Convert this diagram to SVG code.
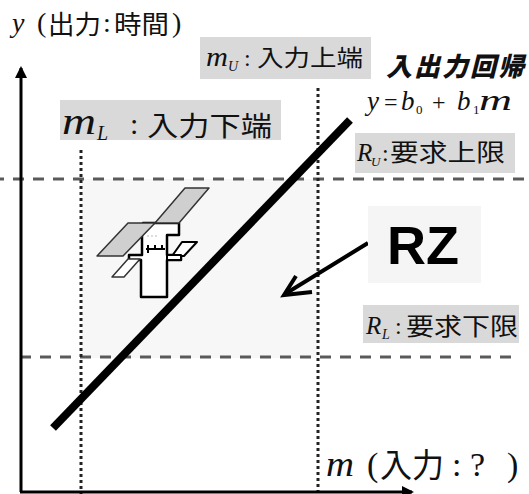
<svg xmlns="http://www.w3.org/2000/svg" width="529" height="494" viewBox="0 0 529 494">
  <style>
    .cjk { font-family: "Noto Sans CJK JP", "Noto Sans", sans-serif; fill: #111; }
    .ser { font-family: "Liberation Serif", "Times New Roman", serif; fill: #111; }
    .it { font-style: italic; }
    .box { fill: #d9d9d9; }
    .dash { stroke: #5a5a5a; stroke-width: 3; stroke-dasharray: 11 9; fill: none; }
    .dot { stroke: #222; stroke-width: 3; stroke-dasharray: 3 3; fill: none; }
  </style>
  <defs>
    <marker id="axisHead" markerWidth="12" markerHeight="12" refX="10" refY="6" orient="auto" markerUnits="userSpaceOnUse">
      <path d="M0,0 L12,6 L0,12 Z" fill="#000"/>
    </marker>
  </defs>

  <rect width="529" height="494" fill="#fff"/>

  <!-- requirement zone -->
  <rect id="zone" x="82" y="179" width="236" height="179" fill="#f7f7f7"/>

  <g id="guides">
    <line class="dash" x1="0" y1="179" x2="529" y2="179" stroke-dashoffset="7"/>
    <line class="dash" x1="20" y1="357" x2="516" y2="357" stroke-dashoffset="0"/>
    <line class="dot" x1="81" y1="150" x2="81" y2="494"/>
    <line class="dot" x1="318" y1="88" x2="318" y2="494"/>
  </g>

  <g id="axes">
    <line x1="21" y1="492" x2="21" y2="68" stroke="#000" stroke-width="3" marker-end="url(#axisHead)"/>
    <line x1="20" y1="492" x2="412" y2="492" stroke="#000" stroke-width="3" marker-end="url(#axisHead)"/>
  </g>

  <!-- regression line -->
  <line id="regression" x1="53" y1="428" x2="350" y2="120" stroke="#000" stroke-width="8"/>

  <!-- satellite icon -->
  <g id="satellite" stroke-linejoin="round">
    <path d="M142,236 L142,255 L129,255 L129,260 L141,260 L141,297 L167,297 L167,260 L181,260 L181,255 L167,255 L167,235 L179,235 L179,223 L143,223 Z" fill="#fff" stroke="#000" stroke-width="2.5"/>
    <polygon points="182,242 197,242 184,256 172,256" fill="#fff" stroke="#000" stroke-width="2"/>
    <rect x="167" y="255" width="14" height="5" fill="#fff" stroke="#000" stroke-width="2"/>
    <polygon points="128,259 140,259 124,277 112,277" fill="#fff" stroke="#333" stroke-width="1.5"/>
    <polygon points="185,188 209,188 179,223 155,223" fill="#cfcfcf" stroke="#333" stroke-width="1.5"/>
    <polygon points="128,223 155,223 123,256 97,256" fill="#cfcfcf" stroke="#333" stroke-width="1.5"/>
    <path d="M146,249 L165,249 M148,245 L148,253 M155,245 L155,250 M162,245 L162,250" stroke="#000" stroke-width="2" fill="none"/>
    <path d="M147,236 L157,236" stroke="#bbb" stroke-width="1" stroke-dasharray="2 2" fill="none"/>
  </g>

  <g id="connectors">
    <line x1="368" y1="243" x2="285" y2="294" stroke="#000" stroke-width="4"/>
    <path d="M296,276 L284,295 L312,292" stroke="#000" stroke-width="4" fill="none" stroke-linejoin="miter"/>
  </g>

  <!-- axis labels -->
  <g id="label-y">
    <text class="ser it" x="12" y="32" font-size="28">y</text>
    <text class="ser" x="37" y="32" font-size="28">(</text>
    <text class="cjk" x="48" y="34" font-size="26" textLength="53" lengthAdjust="spacingAndGlyphs">出力</text>
    <text class="ser" x="103" y="32" font-size="28">:</text>
    <text class="cjk" x="114" y="34" font-size="26" textLength="55" lengthAdjust="spacingAndGlyphs">時間</text>
    <text class="ser" x="172" y="32" font-size="28">)</text>
  </g>

  <g id="label-m">
    <text class="ser it" x="326" y="476" font-size="36" textLength="28" lengthAdjust="spacingAndGlyphs">m</text>
    <text class="ser" x="367" y="476" font-size="34">(</text>
    <text class="cjk" x="380" y="477" font-size="33" textLength="64" lengthAdjust="spacingAndGlyphs">入力</text>
    <text class="ser" x="452" y="476" font-size="34">:</text>
    <text class="ser" x="470" y="476" font-size="34">?</text>
    <text class="ser" x="507" y="476" font-size="34">)</text>
  </g>

  <g id="label-mU">
    <rect class="box" x="200" y="37" width="171" height="42"/>
    <text class="ser it" x="206" y="66" font-size="28" textLength="22" lengthAdjust="spacingAndGlyphs">m</text>
    <text class="ser it" x="228" y="71" font-size="14">U</text>
    <text class="ser" x="244" y="66" font-size="24">:</text>
    <text class="cjk" x="257" y="66" font-size="23" textLength="106" lengthAdjust="spacingAndGlyphs">入力上端</text>
  </g>

  <g id="label-mL">
    <rect class="box" x="60" y="100" width="221" height="40"/>
    <text class="ser it" x="62" y="134" font-size="38" textLength="34" lengthAdjust="spacingAndGlyphs">m</text>
    <text class="ser it" x="97" y="140" font-size="20">L</text>
    <text class="ser" x="130" y="134" font-size="30">:</text>
    <text class="cjk" x="147" y="136" font-size="27" textLength="125" lengthAdjust="spacingAndGlyphs">入力下端</text>
  </g>

  <g id="label-regression">
    <text class="cjk" x="386 414 442 470 498" y="76" font-size="26" font-weight="900" font-style="italic">入出力回帰</text>
    <text class="ser" y="110" font-size="27"><tspan class="it" x="367">y</tspan><tspan x="384" font-size="24">=</tspan><tspan class="it" x="401">b</tspan><tspan x="416" y="114" font-size="13">0</tspan><tspan x="432" y="110" font-size="24">+</tspan><tspan class="it" x="457">b</tspan><tspan x="473" y="114" font-size="13">1</tspan><tspan class="it" x="479" y="110" font-size="29" textLength="33" lengthAdjust="spacingAndGlyphs">m</tspan></text>
  </g>

  <g id="label-RU">
    <rect class="box" x="355" y="133" width="160" height="40"/>
    <text class="ser it" x="357" y="161" font-size="25">R</text>
    <text class="ser it" x="371" y="166" font-size="13">U</text>
    <text class="ser" x="382" y="161" font-size="24">:</text>
    <text class="cjk" x="390" y="161" font-size="24" textLength="115" lengthAdjust="spacingAndGlyphs">要求上限</text>
  </g>

  <g id="label-RL">
    <rect class="box" x="363" y="305" width="156" height="38"/>
    <text class="ser it" x="366" y="334" font-size="25">R</text>
    <text class="ser it" x="382" y="339" font-size="14">L</text>
    <text class="ser" x="395" y="334" font-size="24">:</text>
    <text class="cjk" x="406" y="335" font-size="24" textLength="112" lengthAdjust="spacingAndGlyphs">要求下限</text>
  </g>

  <g id="label-RZ">
    <rect x="368" y="206" width="113" height="77" fill="#f5f5f5"/>
    <text x="387" y="264" font-family="Liberation Sans, Arial, sans-serif" font-weight="bold" font-size="54" fill="#000">RZ</text>
  </g>
</svg>
